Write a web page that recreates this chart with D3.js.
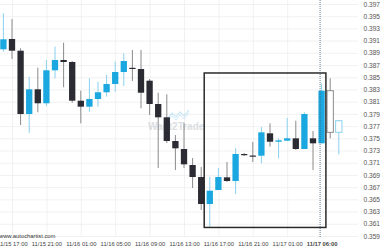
<!DOCTYPE html>
<html>
<head>
<meta charset="utf-8">
<script src="https://cdn.jsdelivr.net/npm/d3@7"></script>
<style>
  html, body { margin: 0; padding: 0; background: #fff; }
  svg { display: block; font-family: "Liberation Sans", Arial, sans-serif; }
</style>
</head>
<body>
<div id="chart"></div>
<script>
// hourly candles, index 0..39
const opens  = [0.38958, 0.39127, 0.38935, 0.37898, 0.38303, 0.38074, 0.38614, 0.38783, 0.38750, 0.38116,
                0.38018, 0.38144, 0.38254, 0.38390, 0.38586, 0.38655, 0.38635, 0.38444, 0.38062, 0.37844,
                0.37456, 0.37325, 0.37063, 0.36866, 0.36424, 0.36653, 0.36861, 0.36801, 0.37243, 0.37218,
                0.37215, 0.37582, 0.37444, 0.37461, 0.37500, 0.37325, 0.37500, 0.37418, 0.38280, 0.37598];
const highs  = [0.39548, 0.39454, 0.38974, 0.38509, 0.38657, 0.38783, 0.39001, 0.39066, 0.38766, 0.38280,
                0.38483, 0.38427, 0.38537, 0.38755, 0.38892, 0.38947, 0.38947, 0.38471, 0.38247, 0.38221,
                0.37554, 0.37751, 0.37177, 0.37030, 0.36871, 0.37014, 0.37112, 0.37341, 0.37259, 0.37440,
                0.37685, 0.37746, 0.37500, 0.37833, 0.37788, 0.37926, 0.37620, 0.38401, 0.38483, 0.37800];
const lows   = [0.38919, 0.38799, 0.37718, 0.37587, 0.37926, 0.38029, 0.38483, 0.38336, 0.38083, 0.37746,
                0.37936, 0.38018, 0.38182, 0.38263, 0.38357, 0.38439, 0.37992, 0.37882, 0.37014, 0.37423,
                0.36981, 0.37014, 0.36686, 0.36326, 0.36052, 0.36653, 0.36784, 0.36588, 0.37210, 0.37112,
                0.37091, 0.37363, 0.37173, 0.37461, 0.37309, 0.37325, 0.36981, 0.37418, 0.37500, 0.37238];
const closes = [0.39122, 0.38935, 0.37898, 0.38303, 0.38074, 0.38614, 0.38783, 0.38750, 0.38116, 0.38018,
                0.38144, 0.38254, 0.38390, 0.38586, 0.38766, 0.38642, 0.38247, 0.38062, 0.37844, 0.37456,
                0.37336, 0.37074, 0.36866, 0.36424, 0.36642, 0.36866, 0.36801, 0.37243, 0.37227, 0.37215,
                0.37598, 0.37444, 0.37467, 0.37500, 0.37325, 0.37898, 0.37418, 0.38280, 0.37598, 0.37788];
const projectedFrom = 38; // hollow forecast candles

const timeTicks  = [1, 5, 9, 13, 17, 21, 25, 29, 33, 37];
const timeLabels = ['11/15 17:00', '11/15 21:00', '11/16 01:00', '11/16 05:00', '11/16 09:00',
                    '11/16 13:00', '11/16 17:00', '11/16 21:00', '11/17 01:00', '11/17 06:00'];
const priceTicks = [0.359, 0.361, 0.363, 0.365, 0.367, 0.369, 0.371, 0.373, 0.375, 0.377,
                    0.379, 0.381, 0.383, 0.385, 0.387, 0.389, 0.391, 0.393, 0.395, 0.397];
const nowIndex = 37;
// pattern rectangle: candle index span and price span
const boxIdx = [23.35, 37.5];
const boxPrice = [0.3604, 0.3857];

const width = 380, height = 250;
const blue = '#1ba7df', blueWick = '#8ad0ef', dark = '#2b2b33', darkWick = '#8a8a8a';

const svg = d3.select('#chart').append('svg')
  .attr('width', width).attr('height', height);

const x = d3.scaleLinear().domain([0, 39]).range([3.4, 338.8]);
const y = d3.scaleLinear().domain([0.359, 0.397]).range([236, 4]);
const bodyW = 6.3;

// grid + axes
const gridX = svg.append('g')
  .call(d3.axisBottom(x).tickValues(timeTicks.slice(0, 9)).tickSize(237).tickFormat(''));
gridX.select('.domain').remove();
gridX.selectAll('line').attr('stroke', '#ededed').attr('stroke-width', 0.8);

const gridY = svg.append('g')
  .call(d3.axisRight(y).tickValues(priceTicks).tickSize(358).tickFormat(''));
gridY.select('.domain').remove();
gridY.selectAll('line').attr('stroke', '#eeeeee').attr('stroke-width', 0.8);

const yAxis = svg.append('g').attr('transform', 'translate(380,0)')
  .call(d3.axisLeft(y).tickValues(priceTicks).tickSize(0).tickPadding(0).tickFormat(d3.format('.3f')));
yAxis.select('.domain').remove();
yAxis.selectAll('text').attr('font-size', 6.6).attr('fill', '#555').attr('font-family', 'Liberation Sans, Arial');

const xAxis = svg.append('g').attr('transform', 'translate(0,236)')
  .call(d3.axisBottom(x).tickValues(timeTicks).tickSize(0).tickPadding(5.5)
    .tickFormat((d, i) => timeLabels[i]));
xAxis.select('.domain').remove();
xAxis.selectAll('text').attr('font-size', 5.8).attr('fill', '#444').attr('font-family', 'Liberation Sans, Arial')
  .attr('font-weight', d => d === nowIndex ? 'bold' : 'normal');

svg.append('text').attr('x', -1).attr('y', 238).attr('font-size', 5.8).attr('fill', '#333')
  .text('www.autochartist.com');

// watermark
const wm = svg.append('g').attr('opacity', 0.4);
wm.append('polyline')
  .attr('points', '168,118 172,113 176,117 180,112 184,116 189,110')
  .attr('fill', 'none').attr('stroke', '#8fd0f0').attr('stroke-width', 1.3);
wm.append('polyline')
  .attr('points', '168,121 172,116 176,120 180,115 184,119 189,113')
  .attr('fill', 'none').attr('stroke', '#8fd0f0').attr('stroke-width', 1);
wm.append('text').attr('x', 148).attr('y', 129.5).attr('font-size', 10).attr('font-weight', 'bold')
  .attr('fill', '#aab2ba').text('Want2Trade');

// candles
const candles = d3.range(opens.length).map(i => ({
  i, o: opens[i], h: highs[i], l: lows[i], c: closes[i]
}));

const cg = svg.append('g').selectAll('g.candle').data(candles).join('g').attr('class', 'candle');

cg.append('line')
  .attr('x1', d => x(d.i)).attr('x2', d => x(d.i))
  .attr('y1', d => y(d.h)).attr('y2', d => y(d.l))
  .attr('stroke', d => d.c >= d.o ? blueWick : darkWick)
  .attr('stroke-width', 1);

cg.append('rect')
  .attr('x', d => x(d.i) - bodyW / 2)
  .attr('width', bodyW)
  .attr('y', d => y(Math.max(d.o, d.c)))
  .attr('height', d => Math.max(1.2, Math.abs(y(d.o) - y(d.c))))
  .attr('fill', d => d.i >= projectedFrom ? '#fff' : (d.c >= d.o ? blue : dark))
  .attr('stroke', d => d.i >= projectedFrom ? (d.c >= d.o ? blueWick : darkWick) : 'none')
  .attr('stroke-width', 1);

// pattern box
svg.append('rect')
  .attr('x', x(boxIdx[0])).attr('y', y(boxPrice[1]))
  .attr('width', x(boxIdx[1]) - x(boxIdx[0]))
  .attr('height', y(boxPrice[0]) - y(boxPrice[1]))
  .attr('fill', 'none').attr('stroke', '#2a2a2a').attr('stroke-width', 1.5);

// current time marker
svg.append('line')
  .attr('x1', x(nowIndex) - 1.5).attr('x2', x(nowIndex) - 1.5)
  .attr('y1', 0).attr('y2', 238)
  .attr('stroke', '#3f5f70').attr('stroke-width', 0.8).attr('stroke-dasharray', '1,1');
</script>
</body>
</html>
